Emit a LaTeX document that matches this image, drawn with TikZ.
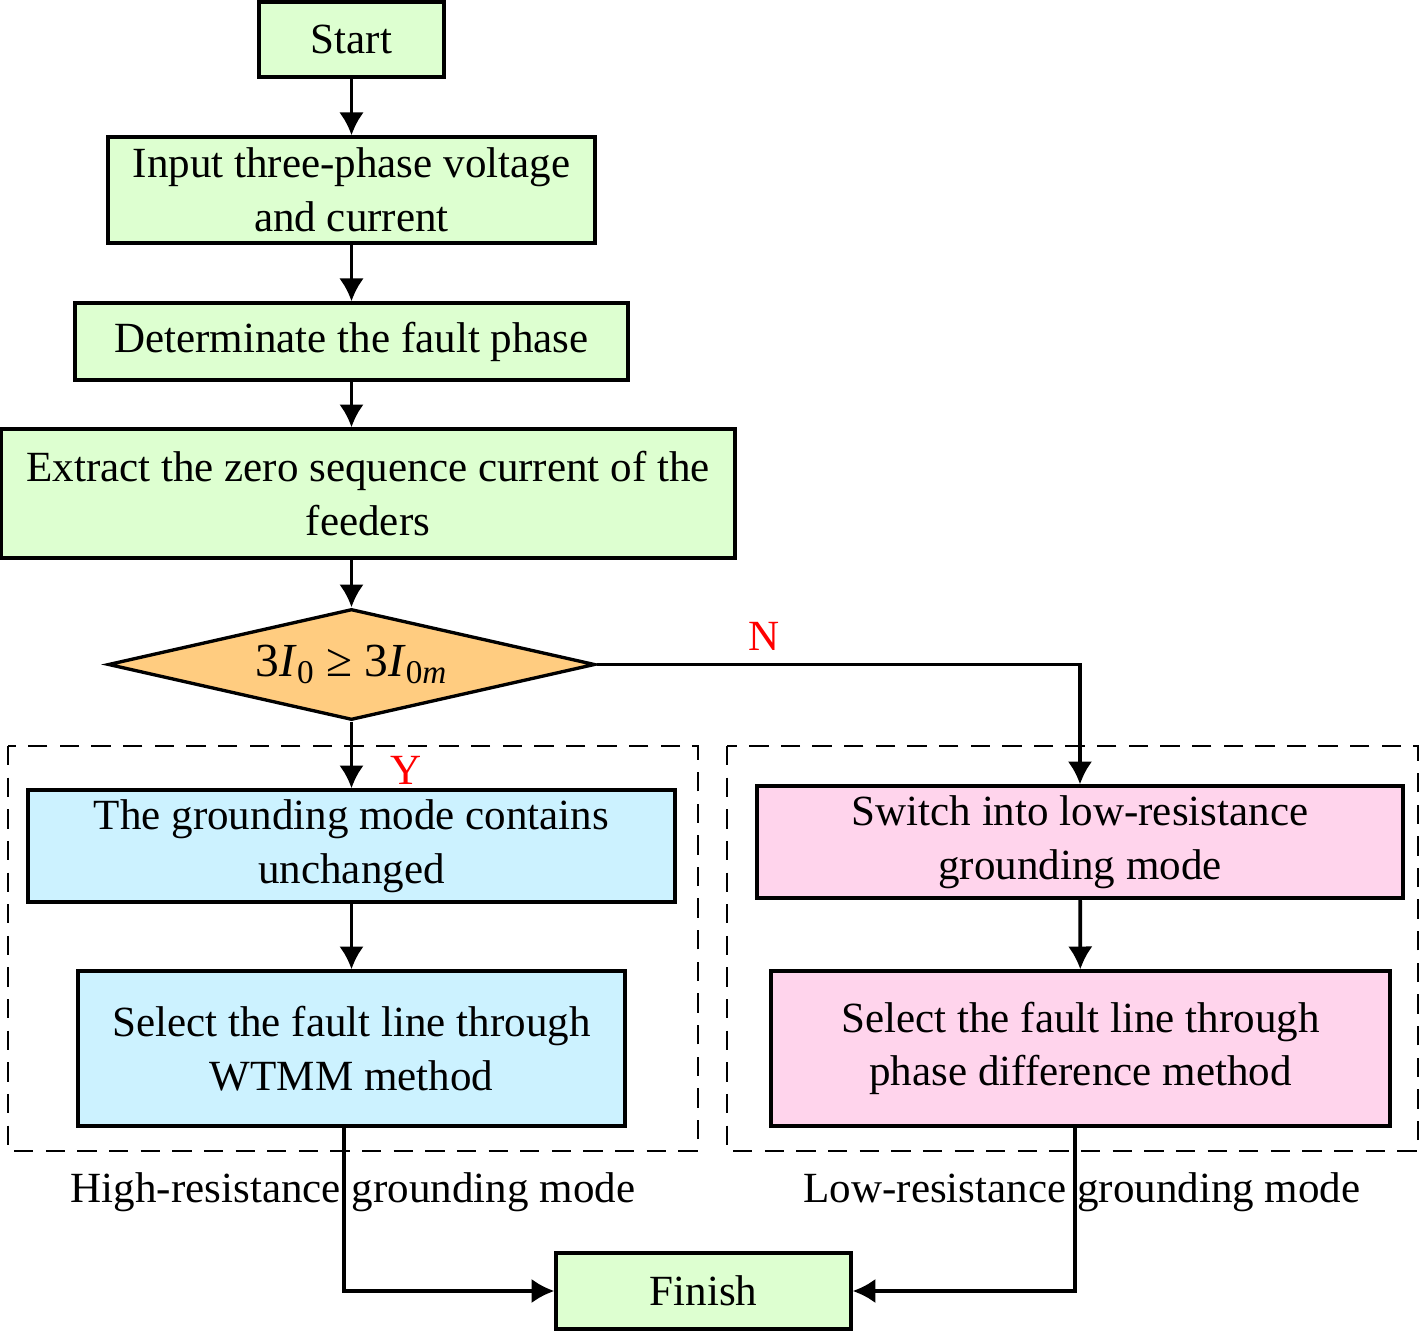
\documentclass[tikz,border=0pt]{standalone}
\usepackage{fontspec}
\setmainfont{Liberation Serif}
\usepackage{tikz}
\usetikzlibrary{shapes.geometric,arrows.meta}
\definecolor{boxgreen}{HTML}{DDFFD0}
\definecolor{boxblue}{HTML}{CCF2FF}
\definecolor{boxpink}{HTML}{FFD4EC}
\definecolor{boxorange}{HTML}{FFCC80}
\tikzset{
  flowbox/.style={draw, line width=1.9pt, align=center, inner sep=2pt},
  flowarrow/.style={-{Latex[length=13pt,width=14pt]}, line width=2.1pt},
  regionbox/.style={draw, line width=1.3pt, dash pattern=on 11pt off 7pt},
  branchlabel/.style={text=red}
}
\begin{document}
\begin{tikzpicture}[x=0.02cm,y=-0.02cm,font=\fontsize{24.5}{30.5}\selectfont]
\useasboundingbox (0,0) rectangle (1420,1331);
%\draw[help lines, color=gray!30, dashed] (0,0) grid[step=100] (1420,1331);
\node[flowbox, fill=boxgreen, minimum width=3.7cm, minimum height=1.5cm] (start) at (351.5,39.5) {Start};
\node[flowbox, fill=boxgreen, minimum width=9.74cm, minimum height=2.12cm] (input) at (351.5,190) {Input three-phase voltage\\and current};
\node[flowbox, fill=boxgreen, minimum width=11.06cm, minimum height=1.54cm] (determ) at (351.5,341.5) {Determinate the fault phase};
\node[flowbox, fill=boxgreen, minimum width=14.68cm, minimum height=2.58cm] (extract) at (368,493.5) {Extract the zero sequence current of the\\feeders};
\node[flowbox, diamond, aspect=4.39, fill=boxorange, inner sep=0pt, minimum width=9.74cm, minimum height=2.22cm, font=\fontsize{27}{30}\selectfont] (cond) at (351.5,664.5) {3\textit{I}\textsubscript{0} ≥ 3\textit{I}\textsubscript{0\textit{m}}};
\draw[regionbox] (8,746) rectangle (698,1151);
\draw[regionbox] (727,746) rectangle (1418,1151);
\node[flowbox, fill=boxblue, minimum width=12.94cm, minimum height=2.24cm] (keep) at (351.5,846) {The grounding mode contains\\unchanged};
\node[flowbox, fill=boxblue, minimum width=10.94cm, minimum height=3.1cm] (wtmm) at (351.5,1048.5) {Select the fault line through\\WTMM method};
\node[flowbox, fill=boxpink, minimum width=12.92cm, minimum height=2.24cm] (switch) at (1080,842) {Switch into low-resistance\\grounding mode};
\node[flowbox, fill=boxpink, minimum width=12.38cm, minimum height=3.1cm] (phase) at (1080.5,1048.5) {Select the fault line through\\phase difference method};
\node[flowbox, fill=boxgreen, minimum width=5.9cm, minimum height=1.52cm] (finish) at (703.5,1291) {Finish};
\node (hrlabel) at (353,1192) {High-resistance grounding mode};
\node (lrlabel) at (1082,1192) {Low-resistance grounding mode};
\node[branchlabel] (ylabel) at (406,770) {Y};
\node[branchlabel] (nlabel) at (764,636) {N};
\draw[flowarrow] (start) -- (input);
\draw[flowarrow] (input) -- (determ);
\draw[flowarrow] (determ.south) -- (determ.south |- extract.north);
\draw[flowarrow] (determ.south |- extract.south) -- (cond.north);
\draw[flowarrow] (cond.south) -- (keep.north);
\draw[flowarrow] (cond.east) -| (switch.north);
\draw[flowarrow] (keep) -- (wtmm);
\draw[flowarrow] (switch) -- (phase);
\draw[flowarrow] ([xshift=-0.15cm]wtmm.south) |- (finish.west);
\draw[flowarrow] ([xshift=-0.11cm]phase.south) |- (finish.east);
\end{tikzpicture}
\end{document}
